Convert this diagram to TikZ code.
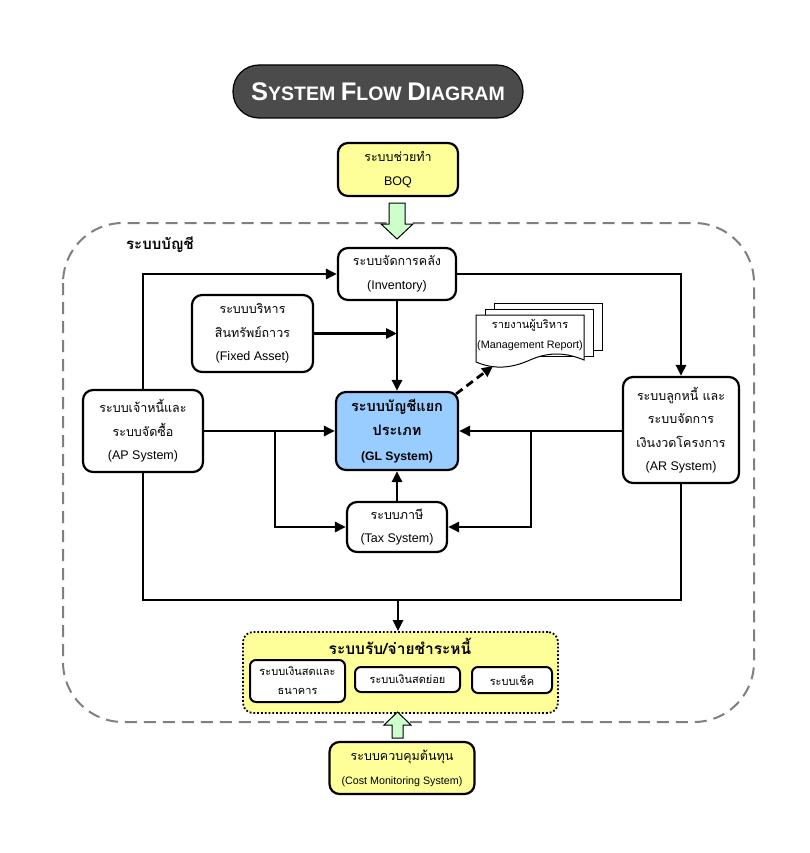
\documentclass[tikz,border=0pt]{standalone}
\usepackage{fontspec}
\setmainfont{Liberation Sans}
\newfontfamily\thai[Script=Thai]{Loma}
\usetikzlibrary{arrows.meta,calc}

\definecolor{titlegray}{HTML}{4B4B4B}
\definecolor{noteyellow}{HTML}{FFFF99}
\definecolor{glblue}{HTML}{99CCFF}
\definecolor{arrowgreen}{HTML}{CCFFCC}
\definecolor{framegray}{HTML}{7F7F7F}

% Thai text run
\newcommand\tht[1]{{\thai\fontsize{12.5}{23.5}\selectfont #1}}
\newcommand\thtb[1]{{\thai\bfseries\fontsize{14.5}{24.5}\selectfont #1}}

\tikzset{
  box/.style={draw, line width=2.2pt, rounded corners=10pt, fill=white,
    align=center, inner sep=0pt, font=\fontsize{12.5}{23.5}\selectfont},
  smallbox/.style={box, line width=2pt, rounded corners=6pt},
  flow/.style={line width=2.8pt, -{Triangle[length=11pt,width=10pt]}},
  link/.style={line width=2.8pt},
  hollowarrow/.style={draw=black, line width=1pt, fill=arrowgreen},
  page/.style={draw, line width=1pt, fill=white},
}

\begin{document}
\begin{tikzpicture}[x=1pt,y=-1pt]
\useasboundingbox (0,0) rectangle (809,853);

% title pill
\node[draw, line width=1.2pt, fill=titlegray, rounded corners=26pt,
  minimum width=290pt, minimum height=53pt, text=white,
  font=\bfseries] (title) at (378,91.5)
  {\raisebox{-4pt}{{\fontsize{25.5}{25.5}\selectfont S}{\fontsize{19.5}{19.5}\selectfont YSTEM }%
   {\fontsize{25.5}{25.5}\selectfont F}{\fontsize{19.5}{19.5}\selectfont LOW }%
   {\fontsize{25.5}{25.5}\selectfont D}{\fontsize{19.5}{19.5}\selectfont IAGRAM}}};

% accounting frame
\draw[framegray, line width=2pt, dash pattern=on 12pt off 7pt, rounded corners=60pt]
  (63,223) rectangle (754,722);
\node[font=\thai\bfseries\fontsize{15}{15}\selectfont] (acct) at (160,245) {ระบบบัญชี};

% boxes
\node[box, fill=noteyellow, minimum width=120pt, minimum height=53pt] (boq) at (398,169.5)
  {\tht{ระบบช่วยทำ}\\BOQ};
\node[box, minimum width=118pt, minimum height=52pt] (inv) at (397,274)
  {\tht{ระบบจัดการคลัง}\\(Inventory)};
\node[box, minimum width=121pt, minimum height=77pt] (fa) at (252.5,333.5)
  {\tht{ระบบบริหาร}\\\tht{สินทรัพย์ถาวร}\\(Fixed Asset)};
\node[box, minimum width=120pt, minimum height=82pt] (ap) at (143,431)
  {\tht{ระบบเจ้าหนี้และ}\\\tht{ระบบจัดซื้อ}\\(AP System)};
\node[box, fill=glblue, minimum width=122pt, minimum height=78pt,
  font=\bfseries\fontsize{12.2}{24.5}\selectfont] (gl) at (397,431)
  {\thtb{ระบบบัญชีแยก}\\\thtb{ประเภท}\\(GL System)};
\node[box, minimum width=116pt, minimum height=106pt] (ar) at (681,430)
  {\tht{ระบบลูกหนี้ และ}\\\tht{ระบบจัดการ}\\\tht{เงินงวดโครงการ}\\(AR System)};
\node[box, minimum width=100pt, minimum height=50pt] (tax) at (397,527)
  {\tht{ระบบภาษี}\\(Tax System)};

% payment group
\node[draw, line width=1.8pt, dotted, fill=noteyellow, rounded corners=10pt,
  minimum width=315pt, minimum height=81pt] (pay) at (400.5,672.5) {};
\node[font=\thai\bfseries\fontsize{15.5}{15.5}\selectfont] (paytitle) at (400,646) {ระบบรับ/จ่ายชำระหนี้};
\node[smallbox, minimum width=95pt, minimum height=42pt,
  font=\thai\fontsize{11}{19}\selectfont] (cash) at (297.5,681)
  {ระบบเงินสดและ\\ธนาคาร};
\node[smallbox, minimum width=105pt, minimum height=25pt,
  font=\thai\fontsize{11}{13}\selectfont] (petty) at (407.5,679.5) {ระบบเงินสดย่อย};
\node[smallbox, minimum width=80pt, minimum height=26pt,
  font=\thai\fontsize{11}{13}\selectfont] (cheque) at (512,680) {ระบบเช็ค};

\node[box, fill=noteyellow, minimum width=145pt, minimum height=52pt,
  font=\fontsize{10.7}{24}\selectfont] (cost) at (402,768)
  {\tht{ระบบควบคุมต้นทุน}\\(Cost Monitoring System)};

% management report (stacked pages)
\draw[page] (494,303) rectangle (602,350);
\draw[page] (485,309) rectangle (593,356);
\draw[page] (476,315) -- (584,315) -- (584,360)
  .. controls (565,352) and (548,352) .. (530,360)
  .. controls (512,368) and (495,370) .. (476,362) -- cycle;
\node[align=center, font=\fontsize{10.8}{20}\selectfont] (rep) at (530,335)
  {{\thai\fontsize{11}{20}\selectfont รายงานผู้บริหาร}\\(Management Report)};
\coordinate (repin) at (493,366);

% hollow green arrows
\draw[hollowarrow] (389,203) -- (405,203) -- (405,224) -- (413,224) -- (397,239)
  -- (381,224) -- (389,224) -- cycle;
\draw[hollowarrow] (392,738) -- (403,738) -- (403,725) -- (411,725) -- (397.5,712)
  -- (384,725) -- (392,725) -- cycle;

% connectors
\draw[flow] (ap.north) |- (inv.west);
\draw[flow] (inv.east) -| (ar.north);
\draw[flow] (inv.south) -- (gl.north);
\draw[flow] (fa.east) -- (fa.east -| inv.south);
\draw[flow] (ap.east) -- (gl.west);
\draw[flow] (ar.west |- gl.east) -- (gl.east);
\coordinate (jl) at (275,431);
\coordinate (jr) at (531,431);
\draw[flow] (jl) |- (tax.west);
\draw[flow] (jr) |- (tax.east);
\draw[flow] (tax.north) -- (gl.south);
\draw[flow, dash pattern=on 8pt off 5pt] ($(gl.north east)+(-3,3)$) -- (repin);
\coordinate (bus) at (398,600);
\draw[link] (ap.south) |- (bus) -| (ar.south);
\draw[flow] (bus) -- (bus |- pay.north);
\end{tikzpicture}
\end{document}
